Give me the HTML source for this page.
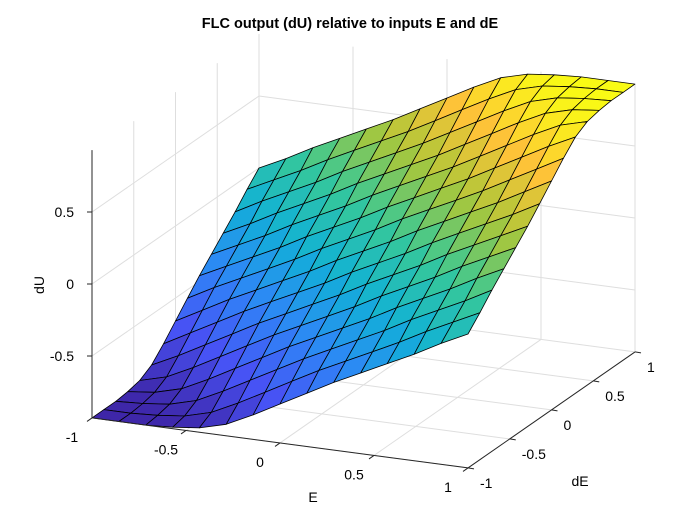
<!DOCTYPE html>
<html><head><meta charset="utf-8"><style>
body{margin:0;background:#fff;}
svg{display:block;font-family:"Liberation Sans",Arial,sans-serif;}
</style></head><body>
<svg id="chart" width="700" height="525" viewBox="0 0 700 525">
<rect width="700" height="525" fill="#fff"/>
<text x="350" y="28" text-anchor="middle" font-size="14.5" font-weight="bold" fill="#000">FLC output (dU) relative to inputs E and dE</text>
<g id="grid"></g>
<g id="surf"></g>
<g id="axes"></g>
<text x="313" y="502" text-anchor="middle" font-size="14">E</text>
<text x="580" y="486" text-anchor="middle" font-size="14">dE</text>
<text x="44" y="285" text-anchor="middle" font-size="14" transform="rotate(-90 44 285)">dU</text>
</svg>
<script>
const eTicks=[-1,-0.5,0,0.5,1];
const eTickLabels=["-1","-0.5","0","0.5","1"];
const dETicks=[-1,-0.5,0,0.5,1];
const dETickLabels=["-1","-0.5","0","0.5","1"];
const zTicks=[-0.5,0,0.5];
const zTickLabels=["-0.5","0","0.5"];
const eValues=[-1,-0.857,-0.714,-0.571,-0.429,-0.286,-0.143,0,0.143,0.286,0.429,0.571,0.714,0.857,1];
const dEValues=[-1,-0.857,-0.714,-0.571,-0.429,-0.286,-0.143,0,0.143,0.286,0.429,0.571,0.714,0.857,1];
const dU=[
[-0.93,-0.93,-0.93,-0.92,-0.90,-0.85,-0.76,-0.66,-0.56,-0.46,-0.37,-0.28,-0.19,-0.09,0.00],
[-0.93,-0.93,-0.92,-0.90,-0.85,-0.76,-0.66,-0.56,-0.46,-0.37,-0.28,-0.19,-0.09,0.00,0.09],
[-0.93,-0.92,-0.90,-0.85,-0.76,-0.66,-0.56,-0.46,-0.37,-0.28,-0.19,-0.09,0.00,0.09,0.19],
[-0.92,-0.90,-0.85,-0.76,-0.66,-0.56,-0.46,-0.37,-0.28,-0.19,-0.09,0.00,0.09,0.19,0.28],
[-0.90,-0.85,-0.76,-0.66,-0.56,-0.46,-0.37,-0.28,-0.19,-0.09,0.00,0.09,0.19,0.28,0.37],
[-0.85,-0.76,-0.66,-0.56,-0.46,-0.37,-0.28,-0.19,-0.09,0.00,0.09,0.19,0.28,0.37,0.46],
[-0.76,-0.66,-0.56,-0.46,-0.37,-0.28,-0.19,-0.09,0.00,0.09,0.19,0.28,0.37,0.46,0.56],
[-0.66,-0.56,-0.46,-0.37,-0.28,-0.19,-0.09,0.00,0.09,0.19,0.28,0.37,0.46,0.56,0.66],
[-0.56,-0.46,-0.37,-0.28,-0.19,-0.09,0.00,0.09,0.19,0.28,0.37,0.46,0.56,0.66,0.76],
[-0.46,-0.37,-0.28,-0.19,-0.09,0.00,0.09,0.19,0.28,0.37,0.46,0.56,0.66,0.76,0.85],
[-0.37,-0.28,-0.19,-0.09,0.00,0.09,0.19,0.28,0.37,0.46,0.56,0.66,0.76,0.85,0.90],
[-0.28,-0.19,-0.09,0.00,0.09,0.19,0.28,0.37,0.46,0.56,0.66,0.76,0.85,0.90,0.92],
[-0.19,-0.09,0.00,0.09,0.19,0.28,0.37,0.46,0.56,0.66,0.76,0.85,0.90,0.92,0.93],
[-0.09,0.00,0.09,0.19,0.28,0.37,0.46,0.56,0.66,0.76,0.85,0.90,0.92,0.93,0.93],
[0.00,0.09,0.19,0.28,0.37,0.46,0.56,0.66,0.76,0.85,0.90,0.92,0.93,0.93,0.93]
];
const zMin=-0.93, zMax=0.93;
const parula=[[0.2422,0.1504,0.6603],[0.2810,0.3228,0.9579],[0.1786,0.5289,0.9682],[0.0689,0.6948,0.8394],[0.2161,0.7843,0.5923],[0.6720,0.7793,0.2227],[0.9970,0.7659,0.2199],[0.9769,0.9839,0.0805]];
const NS="http://www.w3.org/2000/svg";
function proj(e,d,z){return [363.5+188*e+83.5*d, 251+25*e-58*d-144*z];}
function cmap(v){let t=(v-zMin)/(zMax-zMin);t=Math.max(0,Math.min(1,t))*(parula.length-1);
 const i=Math.min(parula.length-2,Math.floor(t)),f=t-i;const a=parula[i],b=parula[i+1];
 return 'rgb('+[0,1,2].map(k=>Math.round(255*(a[k]+(b[k]-a[k])*f))).join(',')+')';}
function line(g,p,q,stroke,w){const l=document.createElementNS(NS,'line');
 l.setAttribute('x1',p[0]);l.setAttribute('y1',p[1]);l.setAttribute('x2',q[0]);l.setAttribute('y2',q[1]);
 l.setAttribute('stroke',stroke);l.setAttribute('stroke-width',w);g.appendChild(l);return l;}
function txt(g,x,y,s,anchor){const t=document.createElementNS(NS,'text');t.setAttribute('x',x);t.setAttribute('y',y);
 t.setAttribute('font-size','14');t.setAttribute('text-anchor',anchor);t.textContent=s;g.appendChild(t);return t;}
const grid=document.getElementById('grid'), gc='#dedede';
eTicks.forEach(e=>{const l=line(grid,proj(e,-1,zMin),proj(e,1,zMin),gc,1);

});
dETicks.forEach(d=>{const l=line(grid,proj(-1,d,zMin),proj(1,d,zMin),gc,1);

});
dETicks.forEach(d=>{const l=line(grid,proj(-1,d,zMin),proj(-1,d,zMax),gc,1);

});
zTicks.forEach(z=>{const l=line(grid,proj(-1,-1,z),proj(-1,1,z),gc,1);

});
eTicks.forEach(e=>{const l=line(grid,proj(e,1,zMin),proj(e,1,zMax),gc,1);

});
zTicks.forEach(z=>{const l=line(grid,proj(-1,1,z),proj(1,1,z),gc,1);

});
const surf=document.getElementById('surf');
const cells=[];
for(let i=0;i<eValues.length-1;i++)for(let j=0;j<dEValues.length-1;j++)cells.push([i,j]);
cells.sort((a,b)=>(a[0]-a[1])-(b[0]-b[1]));
cells.forEach(([i,j])=>{
 const pts=[[i,j],[i+1,j],[i+1,j+1],[i,j+1]].map(([a,b])=>proj(eValues[a],dEValues[b],dU[a][b]));
 const p=document.createElementNS(NS,'polygon');
 p.setAttribute('points',pts.map(q=>q[0].toFixed(1)+','+q[1].toFixed(1)).join(' '));
 const avg=(dU[i][j]+dU[i+1][j]+dU[i+1][j+1]+dU[i][j+1])/4;
 p.setAttribute('fill',cmap(avg));p.setAttribute('stroke','#000');p.setAttribute('stroke-width','0.8');p.setAttribute('stroke-linejoin','round');
 
 
 surf.appendChild(p);});
const ax=document.getElementById('axes'), ac='#262626';
let l=line(ax,proj(-1,-1,zMin),proj(1,-1,zMin),ac,1);


l=line(ax,proj(1,-1,zMin),proj(1,1,zMin),ac,1);


l=line(ax,proj(-1,-1,zMin),proj(-1,-1,zMax),ac,1);


eTicks.forEach((e,k)=>{const p=proj(e,-1,zMin);
 const t=line(ax,p,[p[0]-5,p[1]+3.5],ac,1);
 
 
 const s=txt(ax,p[0]-20,p[1]+24,eTickLabels[k],'middle');
 
 });
dETicks.forEach((d,k)=>{const p=proj(1,d,zMin);
 const t=line(ax,p,[p[0]+6,p[1]+1],ac,1);
 
 
 const s=txt(ax,p[0]+12,p[1]+20,dETickLabels[k],'start');
 
 });
zTicks.forEach((z,k)=>{const p=proj(-1,-1,z);
 const t=line(ax,p,[p[0]-5,p[1]],ac,1);
 
 
 const s=txt(ax,p[0]-18,p[1]+5,zTickLabels[k],'end');
 
 });
</script>
</body></html>
